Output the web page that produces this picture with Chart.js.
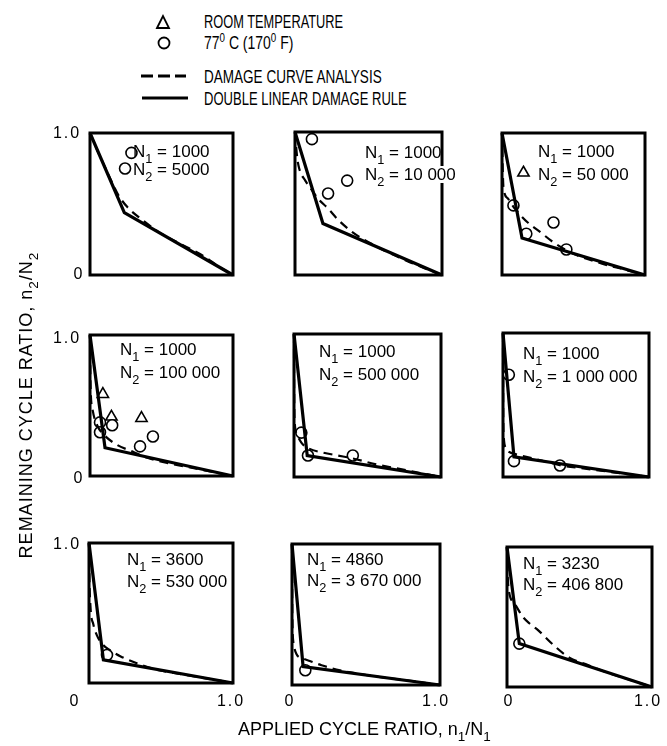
<!DOCTYPE html>
<html>
<head>
<meta charset="utf-8">
<script src="https://cdn.jsdelivr.net/npm/chart.js@4.4.0/dist/chart.umd.min.js"></script>
<style>
    body { margin: 0; background: #fff; }
    #page { position: relative; width: 667px; height: 746px; overflow: hidden; font-family: "Liberation Sans", Arial, sans-serif; color: #000; }
    .txt { position: absolute; white-space: nowrap; line-height: 1; }
    .txt sub { font-size: 0.75em; vertical-align: -0.45em; line-height: 0; }
    .txt sup { font-size: 0.7em; vertical-align: 0.55em; line-height: 0; }
    canvas { position: absolute; }
</style>
</head>
<body>
<div id="page">
    <svg id="legend-marks" width="667" height="120" style="position:absolute;left:0;top:0">
        <polygon points="157,28 163,16 169,28" fill="none" stroke="#000" stroke-width="1.8"/>
        <circle cx="164" cy="43" r="5.5" fill="none" stroke="#000" stroke-width="1.8"/>
        <line x1="141" y1="76" x2="186" y2="76" stroke="#000" stroke-width="3" stroke-dasharray="12 5"/>
        <line x1="142" y1="98" x2="188" y2="98" stroke="#000" stroke-width="3"/>
    </svg>
</div>
<script>
// 每格的 N1 / N2
const n1Values = ['1000', '1000', '1000', '1000', '1000', '1000', '3600', '4860', '3230'];
const n2Values = ['5000', '10 000', '50 000', '100 000', '500 000', '1 000 000', '530 000', '3 670 000', '406 800'];

// 雙線性損傷法則的轉折點 (n1/N1, n2/N2)
const ruleKnees = [
    [0.24, 0.44], [0.19, 0.36], [0.14, 0.26],
    [0.105, 0.20], [0.09, 0.15], [0.075, 0.14],
    [0.10, 0.165], [0.075, 0.13], [0.085, 0.31]
];

// 損傷曲線分析 (虛線)
const curve1 = [[0, 1], [0.05, 0.88], [0.1, 0.77], [0.15, 0.66], [0.2, 0.56], [0.26, 0.48], [0.35, 0.40], [0.5, 0.29], [0.65, 0.21], [0.8, 0.13], [0.9, 0.06], [1, 0]];
const curve2 = [[0, 1], [0.015, 0.82], [0.03, 0.74], [0.07, 0.66], [0.11, 0.60], [0.16, 0.53], [0.22, 0.47], [0.29, 0.39], [0.39, 0.30], [0.5, 0.23], [0.63, 0.16], [0.78, 0.09], [0.9, 0.04], [1, 0]];
const curve3 = [[0, 1], [0.005, 0.75], [0.01, 0.62], [0.04, 0.54], [0.08, 0.48], [0.13, 0.42], [0.18, 0.37], [0.27, 0.30], [0.36, 0.23], [0.5, 0.15], [0.7, 0.08], [0.85, 0.04], [1, 0]];
const curve4 = [[0, 1], [0.002, 0.75], [0.005, 0.60], [0.02, 0.46], [0.05, 0.36], [0.1, 0.29], [0.19, 0.22], [0.28, 0.18], [0.4, 0.13], [0.55, 0.09], [0.7, 0.06], [0.85, 0.03], [1, 0]];
const curve5 = [[0, 1], [0.001, 0.60], [0.005, 0.38], [0.02, 0.30], [0.05, 0.24], [0.1, 0.20], [0.2, 0.17], [0.3, 0.15], [0.4, 0.13], [0.55, 0.09], [0.7, 0.06], [0.85, 0.03], [1, 0]];
const curve6 = [[0, 1], [0.001, 0.50], [0.005, 0.28], [0.02, 0.20], [0.05, 0.17], [0.1, 0.155], [0.2, 0.13], [0.3, 0.105], [0.4, 0.08], [0.55, 0.06], [0.7, 0.04], [0.85, 0.02], [1, 0]];
const curve7 = [[0, 1], [0.002, 0.80], [0.01, 0.55], [0.03, 0.42], [0.055, 0.34], [0.1, 0.27], [0.145, 0.235], [0.22, 0.19], [0.31, 0.15], [0.45, 0.10], [0.6, 0.07], [0.8, 0.035], [1, 0]];
const curve8 = [[0, 1], [0.002, 0.50], [0.01, 0.30], [0.03, 0.22], [0.07, 0.19], [0.12, 0.17], [0.2, 0.14], [0.3, 0.11], [0.45, 0.08], [0.6, 0.055], [0.8, 0.03], [1, 0]];
const curve9 = [[0, 1], [0.003, 0.85], [0.01, 0.71], [0.05, 0.60], [0.11, 0.50], [0.16, 0.45], [0.21, 0.41], [0.32, 0.30], [0.43, 0.21], [0.55, 0.16], [0.7, 0.10], [0.85, 0.05], [1, 0]];
const damageCurves = [curve1, curve2, curve3, curve4, curve5, curve6, curve7, curve8, curve9];

// 77 C (圓圈) 與室溫 (三角形) 試驗點
const hotPoints = [
    [[0.29, 0.86], [0.245, 0.75]],
    [[0.115, 0.95], [0.225, 0.57], [0.355, 0.66]],
    [[0.08, 0.49], [0.17, 0.29], [0.36, 0.37], [0.45, 0.18]],
    [[0.07, 0.38], [0.07, 0.31], [0.155, 0.36], [0.35, 0.21], [0.44, 0.28]],
    [[0.05, 0.31], [0.095, 0.15], [0.40, 0.15]],
    [[0.04, 0.71], [0.075, 0.11], [0.39, 0.08]],
    [[0.125, 0.20]],
    [[0.09, 0.105]],
    [[0.085, 0.31]]
];
const roomPoints = [
    [], [], [[0.15, 0.72]],
    [[0.09, 0.58], [0.15, 0.42], [0.36, 0.41]], [], [],
    [], [], []
];

const axisTicks = ['0', '1.0'];

// 版面: 每格外框 [左, 上, 右, 下] 與標籤位置 [左, 第一行頂, 第二行頂]
const boxes = [
    [90, 133, 233, 275], [295, 132, 442, 275], [502, 133, 645, 275],
    [90, 335, 233, 476], [294, 334, 441, 477], [503, 333, 649, 477],
    [89, 543, 233, 683], [292, 544, 440, 685], [507, 547, 652, 687]
];
const labelPos = [
    [133, 145, 163], [365, 146, 168], [538, 145, 168],
    [120, 343, 366], [319, 345, 368], [523, 347, 370],
    [127, 553, 575], [307, 553, 574], [523, 557, 578]
];

const page = document.getElementById('page');
const toXY = arr => arr.map(p => ({ x: p[0], y: p[1] }));

function addText(html, left, top, size, opts = {}) {
    const el = document.createElement('div');
    el.className = 'txt';
    el.innerHTML = html;
    el.style.left = left + 'px';
    el.style.top = top + 'px';
    el.style.fontSize = size + 'px';
    if (opts.spacing) el.style.letterSpacing = opts.spacing + 'px';
    page.appendChild(el);
    if (opts.center) {
        el.style.transform = 'translate(-50%, -50%)' + (opts.rotate ? ' rotate(-90deg)' : '');
    }
    if (opts.fitWidth) {
        el.style.transformOrigin = 'left top';
        el.style.transform = `scaleX(${opts.fitWidth / el.offsetWidth})`;
    }
    return el;
}

const boxPlugin = {
    id: 'box',
    beforeDatasetsDraw(chart) {
        const { ctx, chartArea: a } = chart;
        ctx.save();
        ctx.lineWidth = 3;
        ctx.strokeStyle = '#000';
        ctx.strokeRect(a.left, a.top, a.right - a.left, a.bottom - a.top);
        ctx.restore();
    }
};

function makePanel(i) {
    const b = boxes[i];
    const pad = 10;
    const cv = document.createElement('canvas');
    cv.width = b[2] - b[0] + pad * 2;
    cv.height = b[3] - b[1] + pad * 2;
    cv.style.left = (b[0] - pad) + 'px';
    cv.style.top = (b[1] - pad) + 'px';
    page.appendChild(cv);

    const k = ruleKnees[i];
    new Chart(cv, {
        type: 'scatter',
        data: {
            datasets: [
                {
                    data: toXY([[0, 1], k, [1, 0]]),
                    showLine: true, borderColor: '#000', borderWidth: 3.2,
                    pointRadius: 0, clip: false
                },
                {
                    data: toXY(damageCurves[i]),
                    showLine: true, borderColor: '#000', borderWidth: 2.2,
                    borderDash: [9, 6], cubicInterpolationMode: 'monotone',
                    pointRadius: 0, clip: false
                },
                {
                    data: toXY(hotPoints[i]),
                    pointStyle: 'circle', pointRadius: 5.5, borderWidth: 1.6,
                    borderColor: '#000', backgroundColor: '#fff', clip: false
                },
                {
                    data: toXY(roomPoints[i]),
                    pointStyle: 'triangle', pointRadius: 6.5, borderWidth: 1.6,
                    borderColor: '#000', backgroundColor: '#fff', clip: false
                }
            ]
        },
        options: {
            responsive: false,
            animation: false,
            events: [],
            layout: { padding: pad },
            plugins: { legend: { display: false }, tooltip: { enabled: false } },
            scales: {
                x: { type: 'linear', min: 0, max: 1, display: false },
                y: { type: 'linear', min: 0, max: 1, display: false }
            }
        },
        plugins: [boxPlugin]
    });

    // N1 / N2 標籤
    const lp = labelPos[i];
    addText(`N<sub>1</sub> = ${n1Values[i]}`, lp[0], lp[1] - 2, 17);
    const l2 = addText(`N<sub>2</sub> = ${n2Values[i]}`, lp[0], lp[2] - 2, 17);
    if (lp[0] + l2.offsetWidth > b[2] - 3) {
        l2.style.background = '#fff';
        l2.style.paddingRight = '2px';
    }
}

for (let i = 0; i < 9; i++) makePanel(i);

// 圖例文字
addText('ROOM TEMPERATURE', 204, 11.5, 19, { fitWidth: 139 });
addText('77<sup>0</sup> C (170<sup>0</sup> F)', 204, 32.5, 19, { fitWidth: 89 });
addText('DAMAGE CURVE ANALYSIS', 204, 66.5, 19, { fitWidth: 178 });
addText('DOUBLE LINEAR DAMAGE RULE', 204, 88.5, 19, { fitWidth: 203 });

// 刻度
const tickRows = [[133, 274], [338, 478], [544, null]];
tickRows.forEach(r => {
    addText(axisTicks[1], 67, r[0], 16, { center: true, spacing: 2 });
    if (r[1]) addText(axisTicks[0], 78, r[1], 16, { center: true });
});
[[74, 231], [289, 436], [508, 648]].forEach(c => {
    addText(axisTicks[0], c[0], 701, 16, { center: true });
    addText(axisTicks[1], c[1], 701, 16, { center: true, spacing: 2 });
});

// 軸標題
addText('APPLIED CYCLE RATIO, n<sub>1</sub>/N<sub>1</sub>', 238, 719.5, 18);
addText('REMAINING CYCLE RATIO, n<sub>2</sub>/N<sub>2</sub>', 26, 405, 18, { center: true, rotate: true, spacing: 1 });
</script>
</body>
</html>
